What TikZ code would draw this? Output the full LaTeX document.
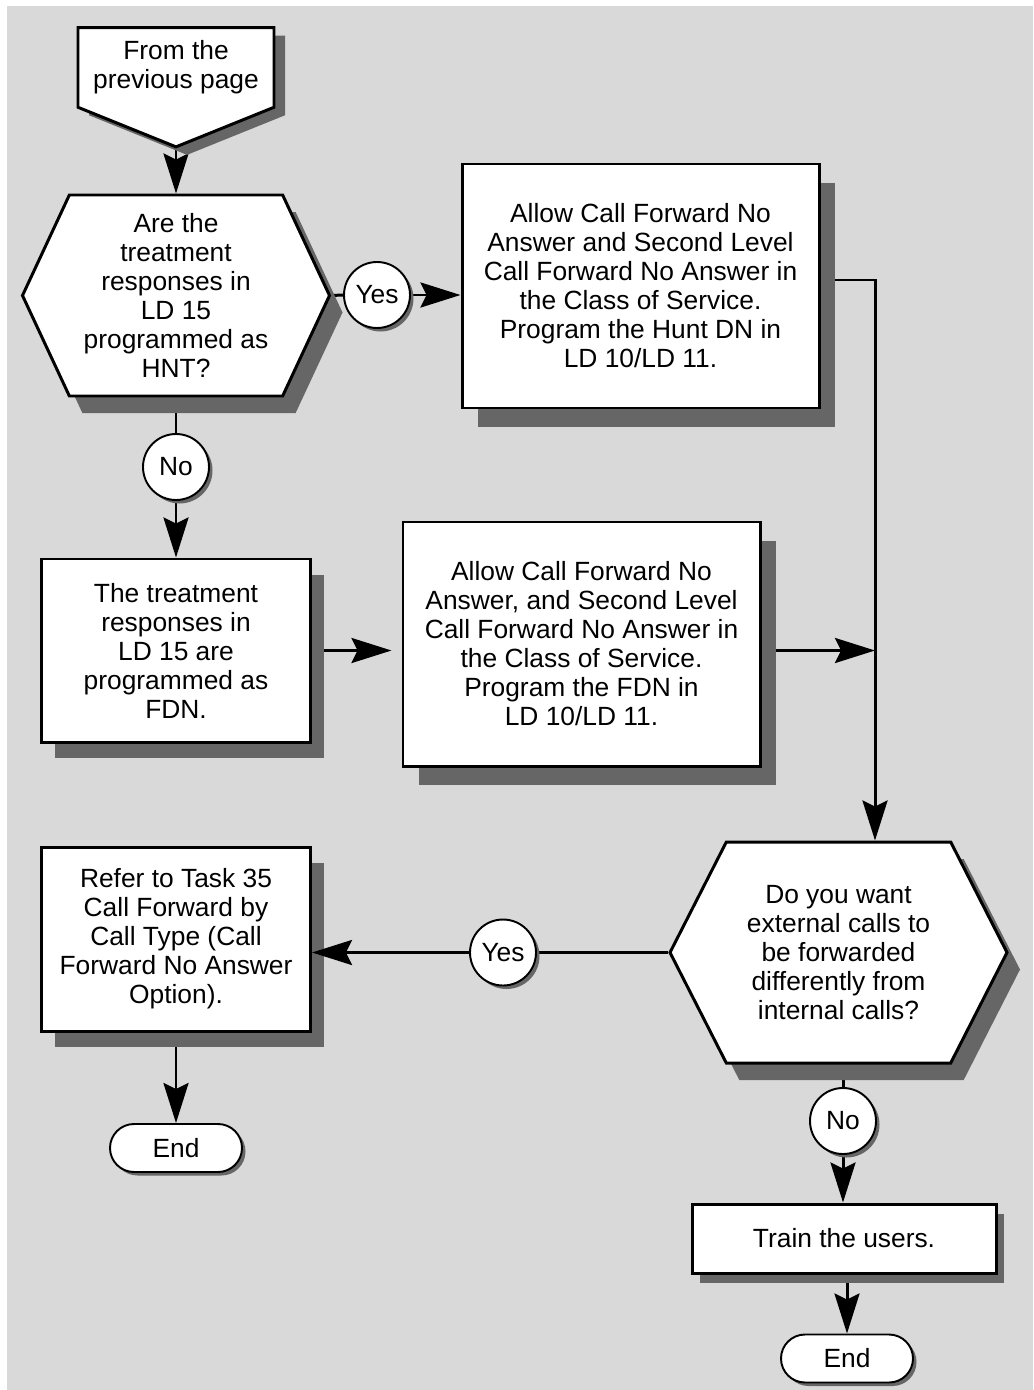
\documentclass[tikz,border=0pt]{standalone}
\usepackage{fontspec}
\setmainfont{Liberation Sans}
\usetikzlibrary{arrows.meta,positioning,shapes,shadows,calc}
\definecolor{pagegray}{HTML}{D9D9D9}
\definecolor{shadowgray}{HTML}{666666}
\pgfdeclarelayer{bg}
\pgfdeclarelayer{wires}
\pgfsetlayers{bg,wires,main}

\begin{document}
\begin{tikzpicture}[
    every node/.style={align=center, font=\fontsize{15}{16.5}\selectfont},
    dropped/.style 2 args={drop shadow={shadow xshift=#1, shadow yshift=#2, fill=shadowgray, opacity=1}},
    card/.style={draw, fill=white, line width=1.7pt, inner sep=0pt},
    process/.style={card, minimum width=7.14cm, minimum height=4.88cm},
    decision/.style={card, shape=signal, signal to=east and west, dropped={.26cm}{-.34cm}},
    offpage/.style={card, shape=signal, signal to=south, dropped={.22cm}{-.16cm}},
    answer/.style={card, circle, line width=1.1pt, minimum size=1.32cm, dropped={.07cm}{-.07cm}},
    terminal/.style={card, rounded corners=.48cm, line width=1.1pt, minimum width=2.64cm, minimum height=.96cm, dropped={.07cm}{-.07cm}},
    wire/.style={line width=1.7pt},
    flow/.style={wire, -{Stealth[length=.8cm, width=.5cm, inset=.12cm]}}
  ]

  \useasboundingbox (0,0) rectangle (20.66,-27.8);
  \begin{pgfonlayer}{bg}
    \fill[pagegray] (0.14,-0.12) rectangle (20.66,-27.8);
  \end{pgfonlayer}

  % Start
  \node[offpage, minimum width=3.92cm, minimum height=2.26cm, signal pointer angle=136] (prev) at (3.52,-1.35) {From the\\previous page};

  % Questions
  \node[decision, minimum width=6.14cm, minimum height=4.02cm, signal pointer angle=130] (hnt) at (3.52,-5.91) {Are the\\treatment\\responses in\\LD 15\\programmed as\\HNT?};
  \node[decision, minimum width=6.74cm, minimum height=4.42cm, signal pointer angle=126] (ext) at (16.77,-19.05) {Do you want\\external calls to\\be forwarded\\differently from\\internal calls?};

  % Steps
  \node[process, dropped={.32cm}{-.38cm}] (hunt) at (12.81,-5.72) {Allow Call Forward No\\Answer and Second Level\\Call Forward No Answer in\\the Class of Service.\\Program the Hunt DN in\\LD 10/LD 11.};
  \node[process, minimum width=5.38cm, minimum height=3.66cm, dropped={.26cm}{-.32cm}] (fdn) at (3.52,-13.01) {The treatment\\responses in\\LD 15 are\\programmed as\\FDN.};
  \node[process, dropped={.32cm}{-.38cm}] (fdnprog) at (11.63,-12.88) {Allow Call Forward No\\Answer, and Second Level\\Call Forward No Answer in\\the Class of Service.\\Program the FDN in\\LD 10/LD 11.};
  \node[process, minimum width=5.38cm, minimum height=3.68cm, dropped={.26cm}{-.32cm}] (task) at (3.52,-18.78) {Refer to Task 35\\Call Forward by\\Call Type (Call\\Forward No Answer\\Option).};
  \node[card, minimum width=6.08cm, minimum height=1.38cm, dropped={.16cm}{-.2cm}] (train) at (16.88,-24.77) {Train the users.};

  % Answers
  \node[answer] (yes1) at (7.54,-5.9) {Yes};
  \node[answer] (no1) at (3.52,-9.34) {No};
  \node[answer] (yes2) at (10.06,-19.05) {Yes};
  \node[answer] (no2) at (16.86,-22.42) {No};

  % Ends
  \node[terminal] (end1) at (3.52,-22.96) {End};
  \node[terminal] (end2) at (16.94,-27.17) {End};

  % Connections
  \coordinate (bend) at (17.5,-5.6);
  \begin{pgfonlayer}{wires}
    \draw[flow] (prev.south) -- (hnt.north);
    \draw[wire] (hnt.east) -- (yes1.west);
    \draw[flow] (yes1.east) -- (yes1.east -| hunt.west);
    \draw[wire] (hnt.south) -- (no1.north);
    \draw[flow] (no1.south) -- (fdn.north);
    \draw[flow, shorten >=.2cm] (fdn.east) -- (fdn.east -| fdnprog.west);
    \draw[flow] (hunt.east |- bend) -- (bend) -- (bend |- ext.north);
    \draw[flow] (fdnprog.east |- fdn.east) -- (fdn.east -| bend);
    \draw[wire] (ext.west) -- (yes2.east);
    \draw[wire] (ext.south -| no2) -- (no2.north);
    \draw[flow] (no2.south) -- (no2.south |- train.north);
    \draw[flow] (train.south -| end2) -- (end2.north);
    \draw[flow] (task.south) -- (end1.north);
  \end{pgfonlayer}
  \draw[flow] (yes2.west) -- (yes2.west -| task.east);

\end{tikzpicture}
\end{document}
